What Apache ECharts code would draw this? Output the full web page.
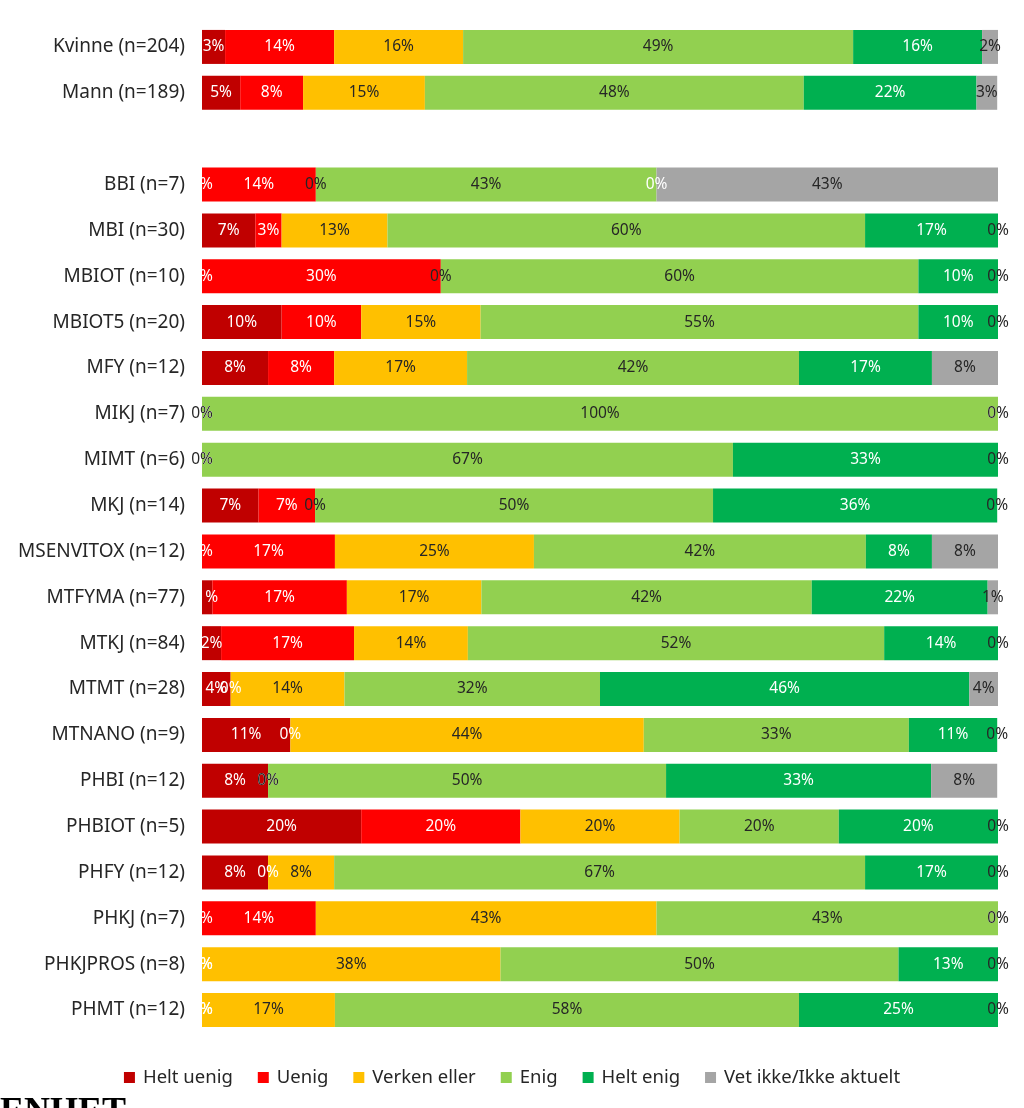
<!DOCTYPE html>
<html>
<head>
<meta charset="utf-8">
<script src="https://cdn.jsdelivr.net/npm/echarts@6/dist/echarts.min.js"></script>
<style>
html,body{margin:0;padding:0;background:#fff;}
#chart{width:1024px;height:1108px;}
</style>
</head>
<body>
<div id="chart"></div>
<script>
// Categories (top to bottom); '' is the blank spacer row
const categories = ['Kvinne (n=204)','Mann (n=189)','','BBI (n=7)','MBI (n=30)','MBIOT (n=10)','MBIOT5 (n=20)','MFY (n=12)','MIKJ (n=7)','MIMT (n=6)','MKJ (n=14)','MSENVITOX (n=12)','MTFYMA (n=77)','MTKJ (n=84)','MTMT (n=28)','MTNANO (n=9)','PHBI (n=12)','PHBIOT (n=5)','PHFY (n=12)','PHKJ (n=7)','PHKJPROS (n=8)','PHMT (n=12)'];

const seriesNames = ['Helt uenig','Uenig','Verken eller','Enig','Helt enig','Vet ikke/Ikke aktuelt'];

// Percent values per response category
const heltUenig = [2.9,4.8,null,0,6.7,0,10,8.3,0,0,7.1,0,1.3,2.4,3.6,11.1,8.3,20,8.3,0,0,0];
const uenig     = [13.7,7.9,null,14.3,3.3,30,10,8.3,0,0,7.1,16.7,16.9,16.7,0,0,0,20,0,14.3,0,0];
const verken    = [16.2,15.3,null,0,13.3,0,15,16.7,0,0,0,25,16.9,14.3,14.3,44.4,0,20,8.3,42.8,37.5,16.7];
const enig      = [49.0,47.6,null,42.8,60,60,55,41.7,100,66.7,50,41.7,41.5,52.3,32.1,33.3,50,20,66.7,42.9,50,58.3];
const heltEnig  = [16.2,21.7,null,0,16.7,10,10,16.7,0,33.3,35.7,8.3,22.1,14.3,46.4,11.1,33.3,20,16.7,0,12.5,25];
const vetIkke   = [2.0,2.6,null,42.9,0,0,0,8.3,0,0,0,8.3,1.3,0,3.6,0,8.3,0,0,0,0,0];

const values = [heltUenig, uenig, verken, enig, heltEnig, vetIkke];
const colors = ['#C00000','#FF0000','#FFC000','#92D050','#00B050','#A5A5A5'];
const labelColors = ['#ffffff','#ffffff','#262626','#262626','#ffffff','#262626'];

const FONT = '"Noto Sans", "Open Sans", sans-serif';

const chart = echarts.init(document.getElementById('chart'));
chart.setOption({
  animation: false,
  backgroundColor: '#ffffff',
  grid: {left: 202, right: 26, top: 24, bottom: 75, containLabel: false},
  xAxis: {type: 'value', min: 0, max: 100, show: false},
  yAxis: {
    type: 'category', data: categories, inverse: true,
    axisLine: {show: false}, axisTick: {show: false},
    axisLabel: {color: '#262626', fontSize: 19, fontFamily: FONT, margin: 17}
  },
  legend: {
    data: seriesNames, top: 1063, left: 'center',
    itemWidth: 11, itemHeight: 11, itemGap: 25, icon: 'rect',
    textStyle: {fontSize: 18.5, color: '#262626', fontFamily: FONT, padding: [0, 0, 0, 3]}
  },
  graphic: [{
    type: 'text', left: 0, top: 1095,
    style: {text: 'ENHET', font: 'bold 36px "Liberation Serif", serif', fill: '#000'}
  }],
  series: seriesNames.map((name, i) => ({
    name, type: 'bar', stack: 'total', barWidth: 34, clip: false,
    itemStyle: {color: colors[i]},
    label: {
      show: true, position: 'inside', color: labelColors[i],
      fontSize: 15.5, fontFamily: FONT,
      formatter: p => (p.value == null ? '' : Math.round(p.value) + '%')
    },
    data: values[i]
  }))
});
</script>
</body>
</html>
